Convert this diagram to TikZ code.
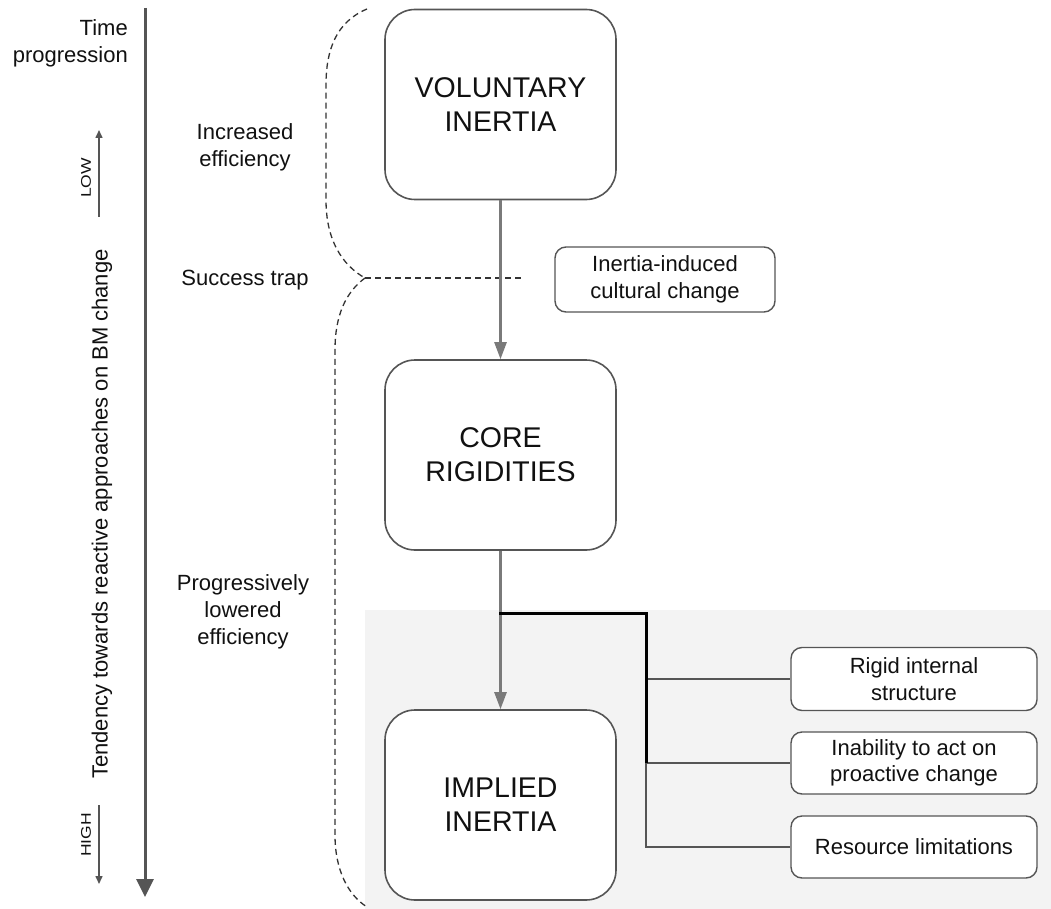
\documentclass[tikz,border=0pt]{standalone}
\usepackage{fontspec}
\setmainfont{Liberation Sans}
\usetikzlibrary{arrows.meta}
\definecolor{txt}{HTML}{111111}
\definecolor{edge}{HTML}{555555}
\definecolor{arr}{HTML}{7A7A7A}
\definecolor{bgc}{HTML}{F3F3F3}
\definecolor{dsh}{HTML}{333333}
\begin{document}
\begin{tikzpicture}[x=1pt,y=-1pt,
  bigbox/.style={draw=edge, line width=1.6pt, rounded corners=30pt, minimum width=231pt, minimum height=190pt, align=center, font=\fontsize{28.5}{34}\selectfont, text=txt, fill=white},
  smallbox/.style={draw=edge, line width=1.4pt, rounded corners=11pt, align=center, font=\fontsize{22}{26.4}\selectfont, text=txt, fill=white, inner sep=0pt},
  lbl/.style={align=center, font=\fontsize{22}{27}\selectfont, text=txt, inner sep=0pt},
  tiny/.style={font=\fontsize{14}{16}\selectfont, text=txt, inner sep=0pt},
  garrow/.style={draw=arr, line width=2.5pt, -{Triangle[width=12pt,length=17pt]}},
  axis/.style={draw=edge, line width=3pt, -{Triangle[width=17pt,length=18pt]}},
  smallarrow/.style={draw=edge, line width=1.5pt, -{Triangle[width=7pt,length=8pt]}},
  dashedline/.style={draw=dsh, line width=1.3pt, dash pattern=on 6pt off 4pt},
  tie/.style={draw=edge, line width=2pt},
  thicktie/.style={draw=black, line width=3pt}
]
\useasboundingbox (0,0) rectangle (1051,909);
\fill[white] (0,0) rectangle (1051,909);
\fill[bgc] (365,610) rectangle (1051,909);

% time axis
\coordinate (tA) at (145,8);
\coordinate (tB) at (145,897);
\draw[axis] (tA) -- (tB);
\node[lbl, align=right, anchor=east] (tp) at (128,43) {Time\\progression};

% low/high arrows
\coordinate (lowA) at (99,217);
\coordinate (lowB) at (99,130);
\draw[smallarrow] (lowA) -- (lowB);
\coordinate (highA) at (99,805);
\coordinate (highB) at (99,884);
\draw[smallarrow] (highA) -- (highB);
\node[tiny, rotate=90] (low) at (86,178) {\scalebox{1.25}[1]{LOW}};
\node[tiny, rotate=90] (high) at (86,835) {\scalebox{1.25}[1]{HIGH}};
\node[lbl, rotate=90] (tend) at (102,514) {Tendency towards reactive approaches on BM change};

% side labels
\node[lbl] (inc) at (245,147) {Increased\\efficiency};
\node[lbl, anchor=base] (succ) at (245,285) {Success trap};
\node[lbl] (prog) at (243,612) {Progressively\\lowered\\efficiency};

% brackets
\coordinate (st) at (365,278);
\draw[dashedline] (367,9) .. controls (336,22) and (326,50) .. (326,85) -- (326,200) .. controls (326,240) and (342,265) .. (st);
\draw[dashedline] (st) .. controls (346,292) and (335,315) .. (335,350) -- (335,835) .. controls (335,870) and (348,895) .. (367,907);
\coordinate (stR) at (522,278);
\draw[dashedline] (st) -- (stR);

% main boxes
\node[bigbox] (vol) at (500.5,104.5) {VOLUNTARY\\INERTIA};
\node[bigbox] (core) at (500.5,455) {CORE\\RIGIDITIES};
\node[bigbox] (impl) at (500.5,805) {IMPLIED\\INERTIA};

\node[smallbox, minimum width=220pt, minimum height=65pt] (cult) at (665,279.5) {Inertia-induced\\cultural change};

\node[smallbox, minimum width=246pt, minimum height=63pt] (rigid) at (914,679) {Rigid internal\\structure};
\node[smallbox, minimum width=246pt, minimum height=62pt] (inab) at (914,763) {Inability to act on\\proactive change};
\node[smallbox, minimum width=246pt, minimum height=62pt] (res) at (914,847) {Resource limitations};

% arrows
\draw[garrow] (vol.south) -- (core.north);
\draw[garrow] (core.south) -- (impl.north);

% factor connectors
\coordinate (j0) at (499,613);
\coordinate (j1) at (646,613);
\draw[tie] (j1 |- rigid.west) -- (rigid.west);
\draw[tie] (j1 |- inab.west) -- (inab.west);
\draw[tie] (j1 |- inab.west) -- (j1 |- res.west) -- (res.west);
\draw[thicktie] (j0) -- (j1) -- (j1 |- inab.west);
\end{tikzpicture}
\end{document}
